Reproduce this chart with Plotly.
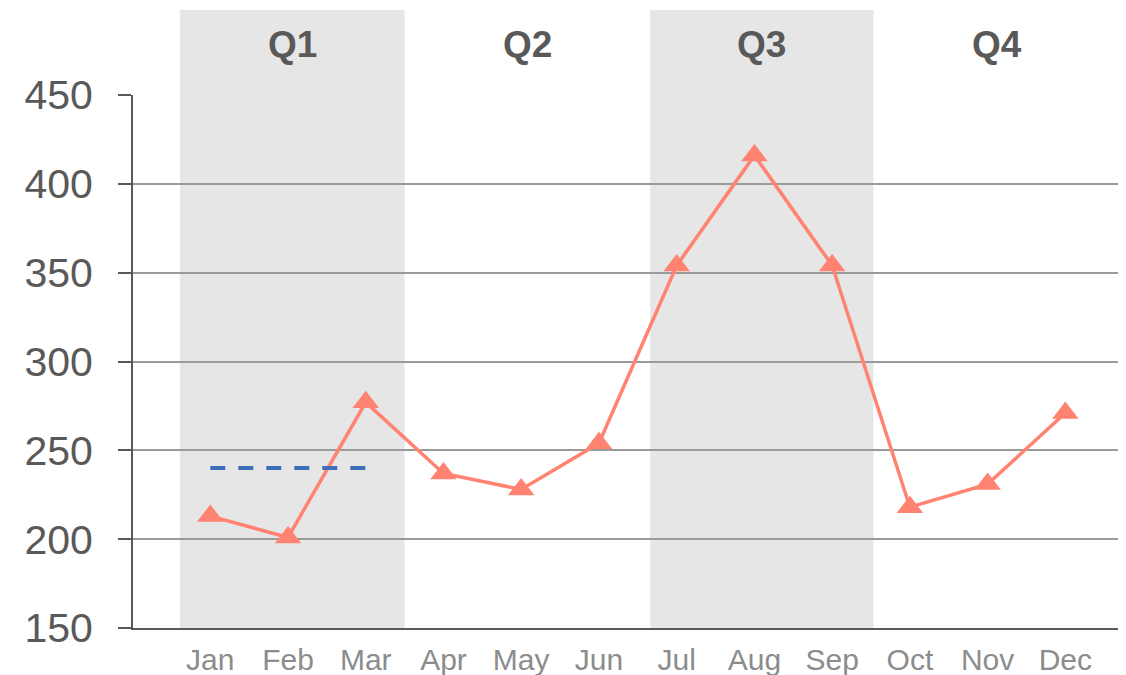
import plotly.graph_objects as go

## Data
# ============================================================================
months = ['Jan', 'Feb', 'Mar', 'Apr', 'May', 'Jun',
          'Jul', 'Aug', 'Sep', 'Oct', 'Nov', 'Dec']
values = [213, 201, 277, 237, 228, 254, 354, 416, 354, 218, 231, 271]

quarters = ['Q1', 'Q2', 'Q3', 'Q4']
shaded = [True, False, True, False]

target_months = ['Jan', 'Mar']
target_value = 240

## Layout helpers
# ============================================================================
# quarter band edges in category units
edges = [-0.39, 2.5, 5.66, 8.53, 11.7]
font = 'Arial, Liberation Sans, sans-serif'

fig = go.Figure()

# monthly series
fig.add_trace(go.Scatter(
    x=months, y=values, mode='lines+markers',
    line=dict(color='#FF8370', width=3.5),
    marker=dict(symbol='triangle-up', size=23, color='#FF8370')))

# target line (dashed)
fig.add_trace(go.Scatter(
    x=target_months, y=[target_value] * len(target_months),
    mode='lines', line=dict(color='#3C6EBA', width=4, dash='15px,13px'),
    hoverinfo='skip'))

# quarter bands and labels
for i, q in enumerate(quarters):
    if shaded[i]:
        fig.add_shape(type='rect', xref='x', yref='paper',
                      x0=edges[i], x1=edges[i + 1], y0=0, y1=1.1595,
                      fillcolor='#E6E6E6', line=dict(width=0), layer='below')
    fig.add_annotation(x=(edges[i] + edges[i + 1]) / 2, y=1.094,
                       xref='x', yref='paper', text='<b>%s</b>' % q,
                       showarrow=False, yanchor='middle',
                       font=dict(family=font, size=37, color='#595959'))

# the page body adds 8px round the figure, so it is 8px smaller here
fig.update_layout(
    width=1118, height=667,
    margin=dict(l=125, r=0, t=87, b=47),
    plot_bgcolor='white', paper_bgcolor='white',
    showlegend=False,
    font=dict(family=font),
)

fig.update_xaxes(
    type='category', categoryorder='array', categoryarray=months,
    range=[-0.994, 11.78], automargin=False,
    showgrid=False, showline=True, linecolor='#595959', linewidth=2,
    ticks='', tickfont=dict(size=30, color='#8C8C8C'),
    ticklabelstandoff=4,
)

fig.update_yaxes(
    range=[150, 450], dtick=50, automargin=False,
    showgrid=True, gridcolor='#9A9A9A', gridwidth=1.5,
    showline=True, linecolor='#595959', linewidth=2,
    ticks='outside', ticklen=13, tickcolor='#595959', tickwidth=2,
    tickfont=dict(size=41, color='#595959'),
    ticklabelstandoff=17, zeroline=False,
)

fig.write_html('out.html')
